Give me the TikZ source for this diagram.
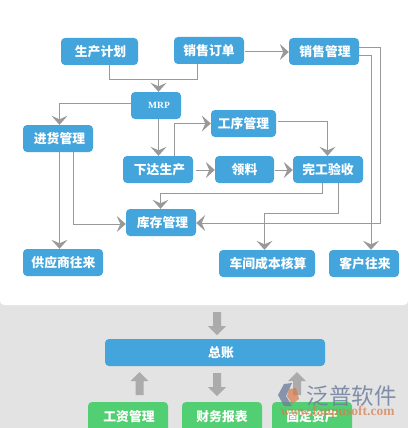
\documentclass[tikz,border=0pt]{standalone}
\usepackage{fontspec}
\usetikzlibrary{arrows.meta}
\setmainfont{Noto Sans CJK SC}
\newfontfamily\latinbit{Liberation Serif}
\definecolor{boxblue}{HTML}{43A5DC}
\definecolor{boxgreen}{HTML}{52CF72}
\definecolor{linegray}{HTML}{999999}
\definecolor{blockgray}{HTML}{ABABAB}
\definecolor{panelgray}{HTML}{E3E3E3}
\definecolor{markslate}{HTML}{6F7F9E}
\definecolor{markorange}{HTML}{D8794A}
\tikzset{
  flowbox/.style={fill=boxblue,rounded corners=4pt,inner sep=0pt,text=white,font=\fontsize{12.8}{14}\selectfont\bfseries,anchor=center},
  greenbox/.style={flowbox,fill=boxgreen},
  plainline/.style={draw=linegray,line width=1pt},
  conn/.style={plainline,-{Stealth[length=9pt,width=16pt,inset=3.5pt,color=linegray]}},
  blockarrow/.style={fill=blockgray,draw=none},
}
\newcommand{\flow}[7][flowbox]{%
  \node[#1,minimum width=#5-#3 pt,minimum height=#6-#4 pt] (#2) at ({(#3+#5)/2},{(#4+#6)/2}) {#7};}
\begin{document}
\begin{tikzpicture}[x=1pt,y=-1pt]
\useasboundingbox (0,0) rectangle (408,428);
\clip (0,0) rectangle (408,428);
\fill[panelgray] (0,295) rectangle (408,428);
\fill[white,rounded corners=4pt] (0,-10) rectangle (408,305);

\flow{plan}{61}{38}{138}{65}{\hspace*{2pt}生产计划}
\flow{order}{174}{37}{244}{64}{销售订单}
\flow{sales}{289}{38}{359}{65}{\hspace*{2pt}销售管理}
\flow{mrp}{131}{92}{181}{119}{\hspace*{6pt}{\latinbit\fontsize{9.5}{13}\selectfont MRP}}
\flow{buy}{23}{125}{93}{152}{\hspace*{3pt}进货管理}
\flow{proc}{211}{110}{276}{137}{工序管理}
\flow{make}{123}{156}{193}{183}{\hspace*{3pt}下达生产}
\flow{pick}{215}{156}{274}{183}{领料}
\flow{check}{293}{156}{363}{183}{完工验收}
\flow{stock}{126}{209}{196}{236}{\hspace*{3pt}库存管理}
\flow{supplier}{23}{249}{103}{276}{\hspace*{1pt}供应商往来}
\flow{cost}{219}{250}{315}{277}{\hspace*{2pt}车间成本核算}
\flow{client}{329}{250}{399}{277}{\hspace*{2pt}客户往来}
\flow{ledger}{105}{339}{325}{366}{\hspace*{12pt}总账}
\flow[greenbox]{pay}{88}{402}{168}{432}{\raisebox{2pt}{\hspace*{2pt}工资管理}}
\flow[greenbox]{report}{182}{402}{262}{432}{\raisebox{2pt}{财务报表}}
\flow[greenbox]{asset}{272}{402}{352}{432}{\raisebox{2pt}{固定资产}}

\coordinate (merge) at (158.5,79);
\draw[plainline] (plan.south -| 109.5,0) |- (merge);
\draw[plainline] (order.south -| 197.5,0) |- (merge);
\draw[conn] (merge) -- (mrp.north -| merge);
\draw[conn] (mrp.west |- 0,103) -| (buy.north -| 59.5,0);
\draw[conn] (mrp.south -| 158.5,0) -- (make.north -| 158.5,0);
\draw[conn] (make.north -| 174.5,0) |- (proc.west |- 0,123.5);
\draw[conn] (order.east |- 0,52) ++(1,0) -- (sales.west |- 0,52);
\draw[conn] (proc.east |- 0,121) ++(2,0) -| (check.north -| 327.5,0);
\draw[conn] (buy.south -| 59.5,0) -- (supplier.north -| 59.5,0);
\draw[conn] (buy.south -| 73.5,0) |- (stock.west |- 0,224);
\draw[conn] (make.east |- 0,170) ++(3,0) -- (pick.west |- 0,170);
\draw[conn] (pick.east |- 0,170) ++(1,0) -- (check.west |- 0,170);
\draw[conn] (check.south -| 322,0) |- (160.5,193) -- (stock.north -| 160.5,0);
\draw[conn] (check.south -| 338,0) |- (264.5,213) -- (cost.north -| 264.5,0);
\draw[conn] (sales.east |- 0,48) -| (380,223) -- (stock.east |- 0,223);
\draw[conn] (sales.east |- 0,56) -| (client.north -| 371,0);

\fill[blockarrow] (213,312) -- (221,312) -- (221,326) -- (226,326) -- (217,335) -- (208,326) -- (213,326) -- cycle;
\fill[blockarrow] (213,373) -- (221,373) -- (221,387) -- (226,387) -- (217,396) -- (208,387) -- (213,387) -- cycle;
\fill[blockarrow] (135.5,395) -- (143.5,395) -- (143.5,381) -- (148.5,381) -- (139.5,372) -- (130.5,381) -- (135.5,381) -- cycle;
\fill[blockarrow] (293,395) -- (301,395) -- (301,381) -- (306,381) -- (297,372) -- (288,381) -- (293,381) -- cycle;

\fill[markslate,opacity=.8] (292,383) -- (284,384) -- (278,395) -- (284,406) -- (292,406) -- (286,396) -- cycle;
\fill[markorange,opacity=.7] (296,388) -- (289,389) -- (287,396) -- (292,404) -- (299,399) -- cycle;
\node[text=markslate,opacity=.85,font=\fontsize{22.5}{24}\selectfont,inner sep=0pt] (brand) at (351.5,395.5) {泛普软件};
\node[text=markorange,opacity=.7,font=\latinbit\fontsize{13.5}{15}\selectfont\bfseries,inner sep=0pt] (site) at (337.5,412.5) {www.fanpusoft.com};
\end{tikzpicture}
\end{document}
